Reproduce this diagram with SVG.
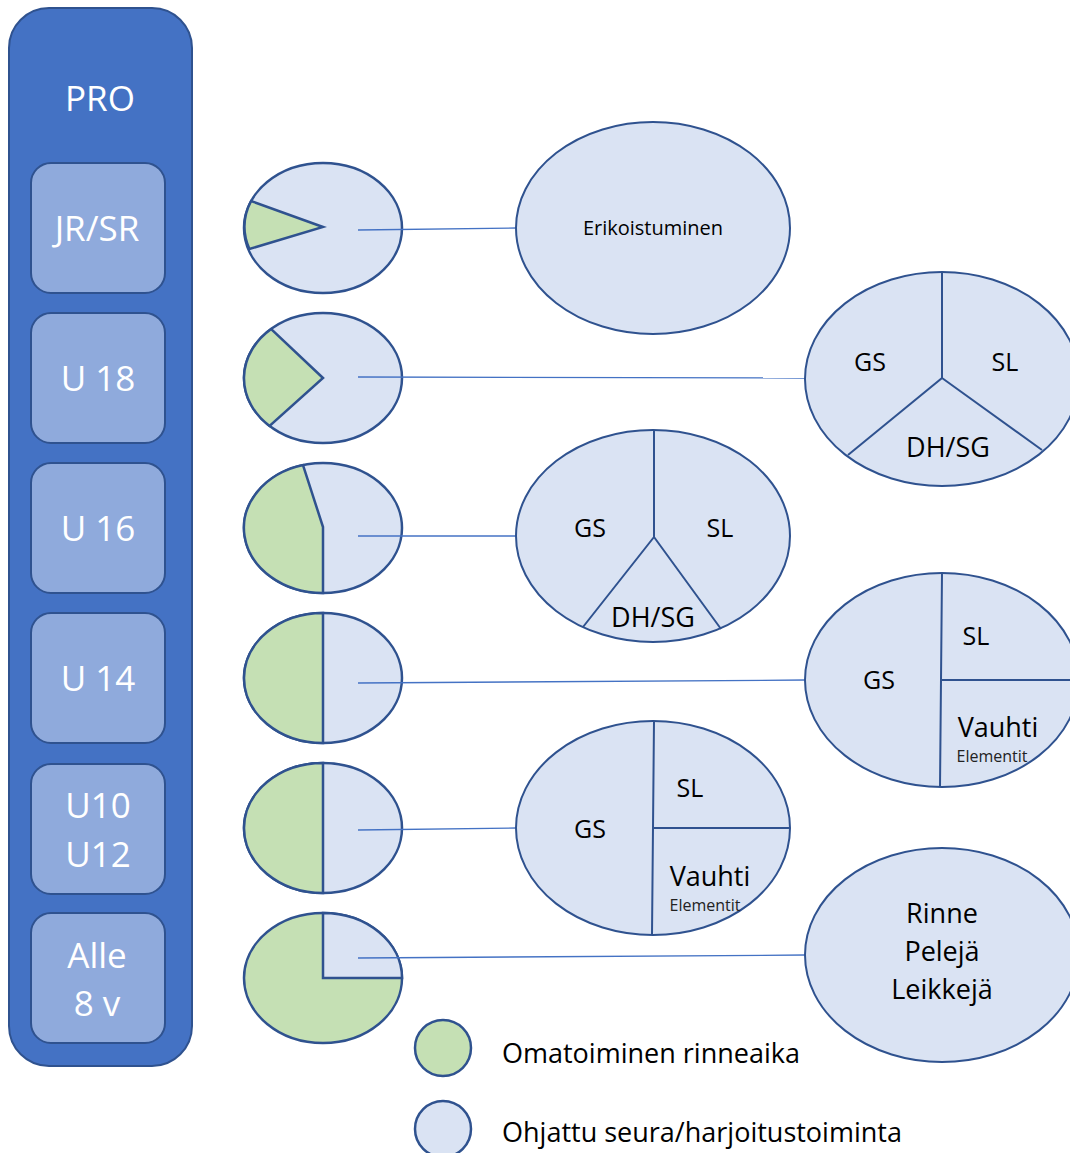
<svg xmlns="http://www.w3.org/2000/svg" width="1070" height="1153" viewBox="0 0 1070 1153">
  <style>
    .bar { fill: #4472C4; stroke: #2F528F; stroke-width: 2; }
    .age { fill: #8FAADC; stroke: #2F528F; stroke-width: 2; }
    .age-t { font-family: "Open Sans", "Liberation Sans", sans-serif; font-size: 35px; fill: #FFFFFF; text-anchor: middle; }
    .guided { fill: #DAE3F3; stroke: #2F528F; stroke-width: 2.5; }
    .free { fill: #C5E0B4; stroke: #2F528F; stroke-width: 2.5; }
    .big { fill: #DAE3F3; stroke: #2F528F; stroke-width: 2; }
    .div { fill: none; stroke: #2F528F; stroke-width: 2; }
    .link { stroke: #4472C4; stroke-width: 1.3; fill: none; }
    .lbl { font-family: "Open Sans", "Liberation Sans", sans-serif; font-size: 25px; fill: #000000; text-anchor: middle; }
    .lbl-l { font-family: "Open Sans", "Liberation Sans", sans-serif; font-size: 27px; fill: #000000; text-anchor: middle; }
    .lbl-s { font-family: "Open Sans", "Liberation Sans", sans-serif; font-size: 16px; fill: #222222; text-anchor: middle; }
    .leg { font-family: "Open Sans", "Liberation Sans", sans-serif; font-size: 27px; fill: #000000; }
  </style>

  <!-- age-group column -->
  <g id="column">
    <rect class="bar" x="9" y="8" width="183" height="1058" rx="40"/>
    <text class="age-t" x="100" y="111">PRO</text>
  </g>
  <g id="age-jrsr">
    <rect class="age" x="31" y="163" width="134" height="130" rx="20"/>
    <text class="age-t" x="97" y="241">JR/SR</text>
  </g>
  <g id="age-u18">
    <rect class="age" x="31" y="313" width="134" height="130" rx="20"/>
    <text class="age-t" x="98" y="391">U 18</text>
  </g>
  <g id="age-u16">
    <rect class="age" x="31" y="463" width="134" height="130" rx="20"/>
    <text class="age-t" x="98" y="541">U 16</text>
  </g>
  <g id="age-u14">
    <rect class="age" x="31" y="613" width="134" height="130" rx="20"/>
    <text class="age-t" x="98" y="691">U 14</text>
  </g>
  <g id="age-u10u12">
    <rect class="age" x="31" y="764" width="134" height="130" rx="20"/>
    <text class="age-t" x="98" y="818">U10</text>
    <text class="age-t" x="98" y="867">U12</text>
  </g>
  <g id="age-alle8">
    <rect class="age" x="31" y="913" width="134" height="130" rx="20"/>
    <text class="age-t" x="97" y="968">Alle</text>
    <text class="age-t" x="97" y="1016">8 v</text>
  </g>

  <!-- share pies: green = free slope time, blue = guided training -->
  <g id="pie-jrsr">
    <ellipse class="guided" cx="323" cy="228" rx="79" ry="65"/>
    <path class="free" d="M323,227 L251.1,201 A79,65 0 0 0 249.4,249 Z"/>
  </g>
  <g id="pie-u18">
    <ellipse class="guided" cx="323" cy="378" rx="79" ry="65"/>
    <path class="free" d="M323,378 L271.2,329 A79,65 0 0 0 269.6,426 Z"/>
  </g>
  <g id="pie-u16">
    <ellipse class="guided" cx="323" cy="528" rx="79" ry="65"/>
    <path class="free" d="M303,465.1 L323,527 L323,593 A79,65 0 0 1 303,465.1 Z"/>
  </g>
  <g id="pie-u14">
    <ellipse class="guided" cx="323" cy="678" rx="79" ry="65"/>
    <path class="free" d="M323,613 L323,743 A79,65 0 0 1 323,613 Z"/>
  </g>
  <g id="pie-u10u12">
    <ellipse class="guided" cx="323" cy="828" rx="79" ry="65"/>
    <path class="free" d="M323,763 L323,893 A79,65 0 0 1 323,763 Z"/>
  </g>
  <g id="pie-alle8">
    <ellipse class="free" cx="323" cy="978" rx="79" ry="65"/>
    <path class="guided" d="M323,978 L323,913 A79,65 0 0 1 402,978 Z"/>
  </g>

  <!-- connectors from share pies to content ellipses -->
  <g id="connectors">
    <line class="link" x1="358" y1="230" x2="516" y2="228"/>
    <line class="link" x1="358" y1="377" x2="805" y2="378"/>
    <line class="link" x1="358" y1="536" x2="516" y2="536"/>
    <line class="link" x1="358" y1="683" x2="805" y2="680"/>
    <line class="link" x1="358" y1="830" x2="516" y2="828"/>
    <line class="link" x1="358" y1="958" x2="805" y2="955"/>
  </g>

  <!-- content ellipses -->
  <g id="content-jrsr">
    <ellipse class="big" cx="653" cy="228" rx="137" ry="106"/>
    <text class="lbl" x="653" y="235" style="font-size:20px">Erikoistuminen</text>
  </g>
  <g id="content-u18">
    <ellipse class="big" cx="942" cy="379" rx="137" ry="107"/>
    <path class="div" d="M942,272 L942,378 L848,455 M942,378 L1042,450"/>
    <text class="lbl" x="870" y="371">GS</text>
    <text class="lbl" x="1005" y="371">SL</text>
    <text class="lbl-l" x="948" y="457">DH/SG</text>
  </g>
  <g id="content-u16">
    <ellipse class="big" cx="653" cy="536" rx="137" ry="106"/>
    <path class="div" d="M654,430 L654,537 L583,627 M654,537 L721,629"/>
    <text class="lbl" x="590" y="537">GS</text>
    <text class="lbl" x="720" y="537">SL</text>
    <text class="lbl-l" x="653" y="627">DH/SG</text>
  </g>
  <g id="content-u14">
    <ellipse class="big" cx="942" cy="680" rx="137" ry="107"/>
    <path class="div" d="M942,573 L940,787 M942,680 L1079,680"/>
    <text class="lbl" x="879" y="689">GS</text>
    <text class="lbl" x="976" y="645">SL</text>
    <text class="lbl-l" x="998" y="737">Vauhti</text>
    <text class="lbl-s" x="992" y="762">Elementit</text>
  </g>
  <g id="content-u10u12">
    <ellipse class="big" cx="653" cy="828" rx="137" ry="107"/>
    <path class="div" d="M654,721 L652,935 M654,828 L790,828"/>
    <text class="lbl" x="590" y="838">GS</text>
    <text class="lbl" x="690" y="797">SL</text>
    <text class="lbl-l" x="710" y="886">Vauhti</text>
    <text class="lbl-s" x="705" y="911">Elementit</text>
  </g>
  <g id="content-alle8">
    <ellipse class="big" cx="942" cy="955" rx="137" ry="107"/>
    <text class="lbl-l" x="942" y="923">Rinne</text>
    <text class="lbl-l" x="942" y="961">Pelejä</text>
    <text class="lbl-l" x="942" y="999">Leikkejä</text>
  </g>

  <!-- legend -->
  <g id="legend">
    <ellipse class="free" cx="443" cy="1048" rx="28" ry="28"/>
    <text class="leg" x="502" y="1063">Omatoiminen rinneaika</text>
    <ellipse class="guided" cx="443" cy="1129" rx="28" ry="28"/>
    <text class="leg" x="502" y="1142">Ohjattu seura/harjoitustoiminta</text>
  </g>
</svg>
